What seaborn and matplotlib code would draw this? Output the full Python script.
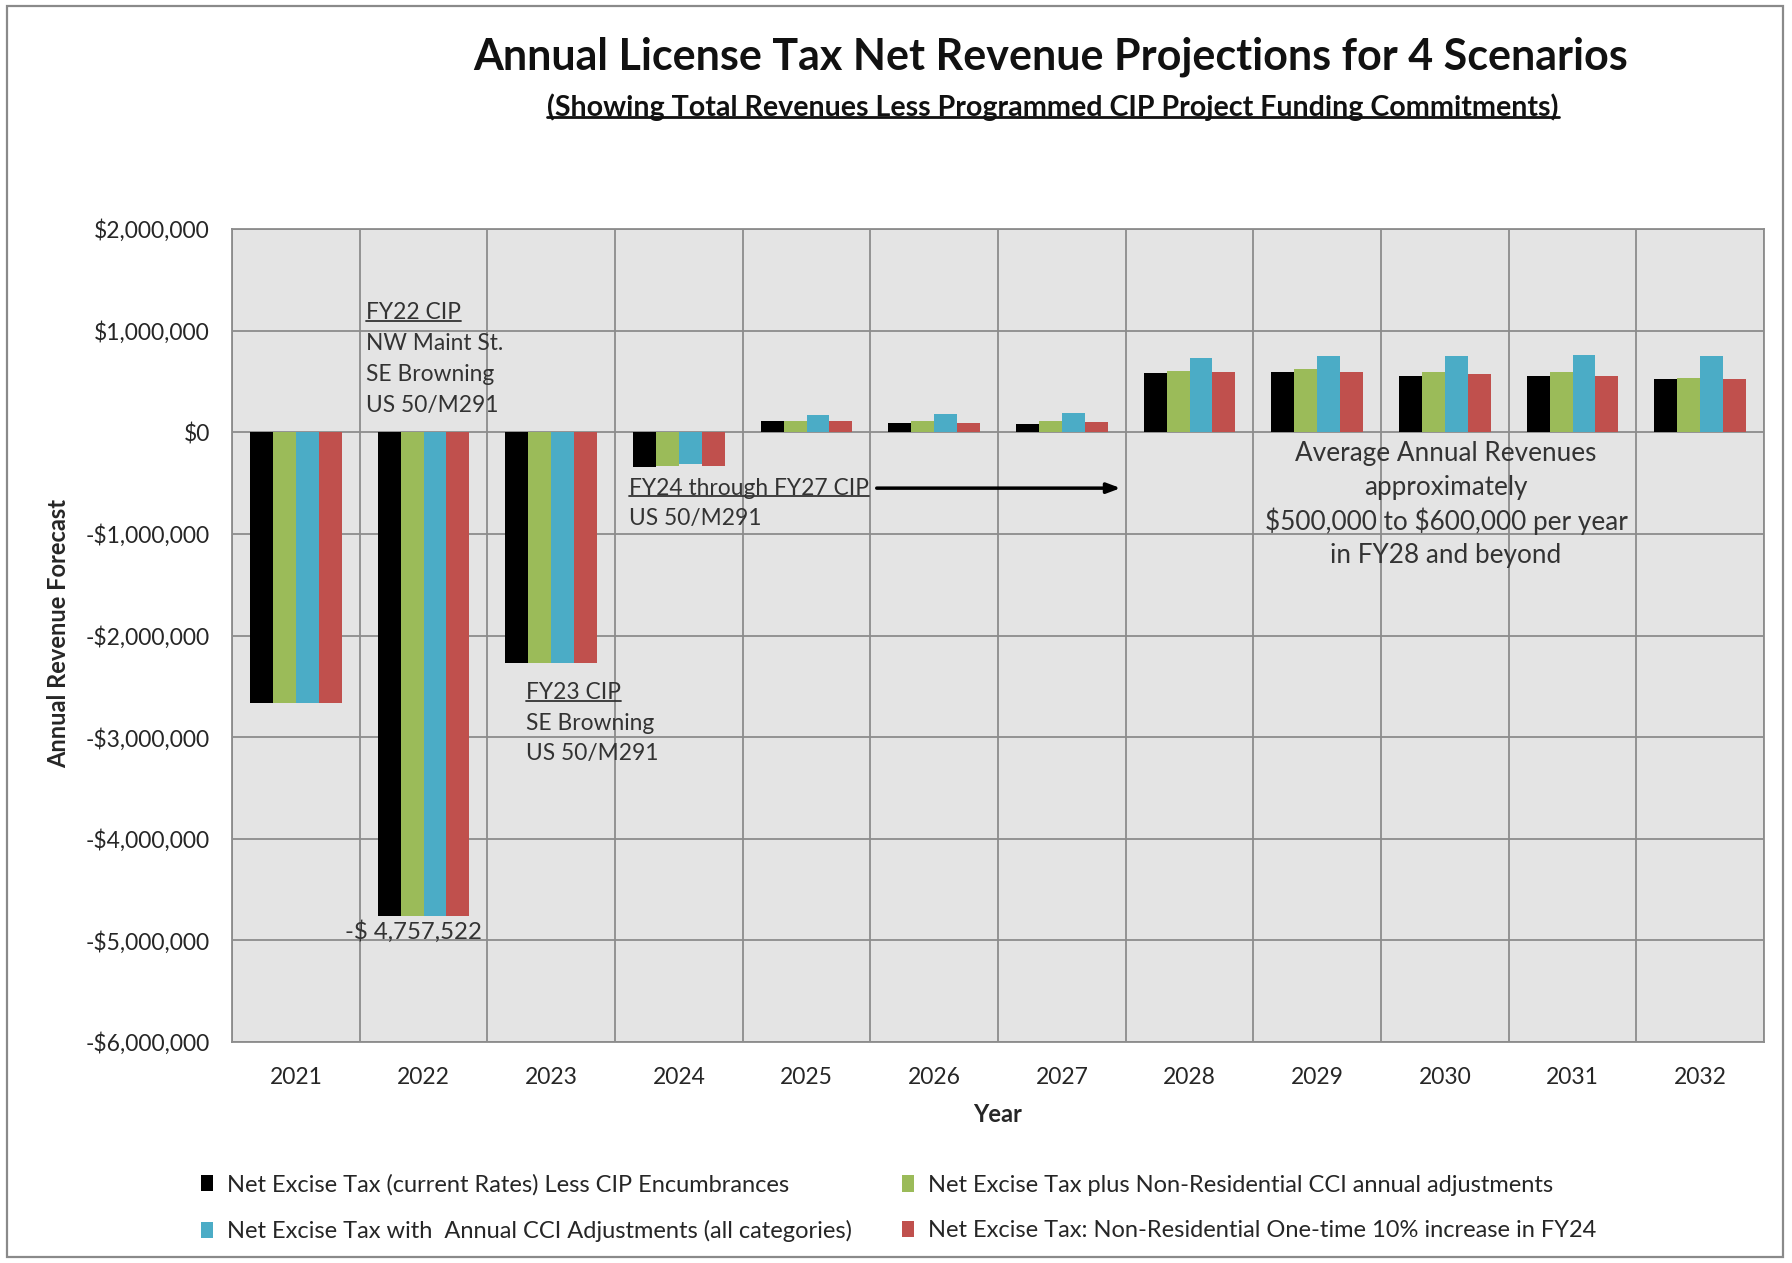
import matplotlib
matplotlib.use("Agg")
import matplotlib.pyplot as plt
from matplotlib.patches import Patch, Rectangle
from matplotlib.lines import Line2D
from matplotlib.transforms import IdentityTransform
from matplotlib.ticker import FuncFormatter, MultipleLocator, FixedLocator
import numpy as np
import pandas as pd
import seaborn as sns

# ---- data -------------------------------------------------------------
years = [str(y) for y in range(2021, 2033)]

scenarios = [
    "Net Excise Tax (current Rates) Less CIP Encumbrances",
    "Net Excise Tax plus Non-Residential CCI annual adjustments",
    "Net Excise Tax with  Annual CCI Adjustments (all categories)",
    "Net Excise Tax: Non-Residential One-time 10% increase in FY24",
]

current_rates = [-2660000, -4757522, -2275000, -340000, 110000, 92000, 83000,
                 581000, 597000, 554000, 554000, 521000]
nonres_cci = [-2660000, -4757522, -2275000, -330000, 106000, 106000, 109000,
              604000, 620000, 594000, 594000, 538000]
all_cci = [-2660000, -4757522, -2275000, -310000, 165000, 175000, 191000,
           729000, 752000, 752000, 762000, 752000]
nonres_10pct = [-2660000, -4757522, -2275000, -330000, 109000, 92000, 96000,
                597000, 597000, 571000, 554000, 521000]

colors = ["#000000", "#9BBB59", "#4BACC6", "#C0504D"]

df = pd.DataFrame({
    "Year": years * 4,
    "Scenario": np.repeat(scenarios, len(years)),
    "Revenue": current_rates + nonres_cci + all_cci + nonres_10pct,
})

# ---- style ------------------------------------------------------------
sns.set_style("white")
plt.rcParams["font.family"] = ["Lato", "DejaVu Sans"]
text_grey = "#333333"
grid_grey = "#8C8C8C"

fig = plt.figure(figsize=(17.92, 12.63), dpi=100)
ax = fig.add_axes([232 / 1792, 1 - 1042 / 1263, 1532 / 1792, 813 / 1263])
ax.set_facecolor("#E4E4E4")

sns.barplot(data=df, x="Year", y="Revenue", hue="Scenario", hue_order=scenarios,
            palette=colors, width=0.72, saturation=1, errorbar=None,
            linewidth=0, legend=False, ax=ax)

ax.set_xlim(-0.5, len(years) - 0.5)
ax.set_ylim(-6000000, 2000000)
ax.yaxis.set_major_locator(MultipleLocator(1000000))


def dollars(v, _pos):
    v = int(round(v))
    return f"-${abs(v):,}" if v < 0 else f"${v:,}"


ax.yaxis.set_major_formatter(FuncFormatter(dollars))
ax.xaxis.set_minor_locator(FixedLocator(np.arange(-0.5, len(years), 1.0)))
ax.set_axisbelow(True)
ax.grid(axis="y", which="major", color=grid_grey, linewidth=1.3)
ax.grid(axis="x", which="minor", color=grid_grey, linewidth=1.3)
ax.grid(axis="x", which="major", visible=False)
for s in ax.spines.values():
    s.set_color(grid_grey)
    s.set_linewidth(1.3)

ax.tick_params(axis="both", which="both", length=0, labelsize=16.5,
               labelcolor="#262626")
ax.tick_params(axis="y", pad=16)
ax.tick_params(axis="x", pad=18)
ax.set_xlabel("")
ax.set_ylabel("")

fig.text(59 / 1792, 1 - 634 / 1263, "Annual Revenue Forecast", rotation=90,
         ha="center", va="center", fontsize=17, fontweight="bold", color="#262626")
fig.text(998 / 1792, 1 - 1114 / 1263, "Year", ha="center", va="center",
         fontsize=17, fontweight="bold", color="#262626")

# ---- titles -----------------------------------------------------------
title = fig.text(1051 / 1792, 1 - 57 / 1263,
                 "Annual License Tax Net Revenue Projections for 4 Scenarios",
                 ha="center", va="center", fontsize=31, fontweight="bold",
                 color="#111111")
subtitle = fig.text(1053 / 1792, 1 - 107 / 1263,
                    "(Showing Total Revenues Less Programmed CIP Project Funding Commitments)",
                    ha="center", va="center", fontsize=20.6, fontweight="bold",
                    color="#111111")

# ---- annotations ------------------------------------------------------
ann_kw = dict(fontsize=16.4, color=text_grey, va="center", ha="left",
              parse_math=False)

underlined = [subtitle]

fy22 = ["FY22 CIP", "NW Maint St.", "SE Browning", "US 50/M291"]
for i, line in enumerate(fy22):
    t = ax.text(0.55, 1175000 - i * 305000, line, **ann_kw)
    if i == 0:
        underlined.append(t)

fy23 = ["FY23 CIP", "SE Browning", "US 50/M291"]
for i, line in enumerate(fy23):
    t = ax.text(1.80, -2565000 - i * 300000, line, **ann_kw)
    if i == 0:
        underlined.append(t)

fy24 = ["FY24 through FY27 CIP", "US 50/M291"]
for i, line in enumerate(fy24):
    t = ax.text(2.61, -550000 - i * 295000, line, **ann_kw)
    if i == 0:
        underlined.append(t)

ax.annotate("", xy=(6.46, -550000), xytext=(4.55, -550000),
            arrowprops=dict(arrowstyle="-|>,head_length=0.8,head_width=0.3",
                            color="black", lw=2.5, shrinkA=0, shrinkB=0))

avg = ["Average Annual Revenues", "approximately",
       "$500,000 to $600,000 per year", "in FY28 and beyond"]
for i, line in enumerate(avg):
    ax.text(9.01, -205000 - i * 335000, line, fontsize=18.8, color=text_grey,
            ha="center", va="center", parse_math=False)

low_year = years.index("2022")
low_val = current_rates[low_year]
ax.annotate(f"-$ {abs(low_val):,}", xy=(low_year - 0.08, low_val),
            xytext=(0, -3), textcoords="offset points",
            ha="center", va="top", fontsize=17.3, color=text_grey,
            parse_math=False)

# ---- legend -----------------------------------------------------------
handles = [Patch(facecolor=c, edgecolor="none") for c in colors]
leg_kw = dict(frameon=False, fontsize=17, handlelength=0.5, handleheight=0.7,
              handletextpad=0.6, labelspacing=1.05, borderpad=0,
              loc="center left", labelcolor="#262626")
fig.legend([handles[0], handles[2]], [scenarios[0], scenarios[2]],
           bbox_to_anchor=(189 / 1792, 1 - 1208 / 1263), **leg_kw)
fig.legend([handles[1], handles[3]], [scenarios[1], scenarios[3]],
           bbox_to_anchor=(890 / 1792, 1 - 1208 / 1263), **leg_kw)

# ---- outer frame ------------------------------------------------------
fig.add_artist(Rectangle((7 / 1792, 1 - 1257 / 1263), 1776 / 1792, 1251 / 1263,
                         transform=fig.transFigure, fill=False,
                         edgecolor="#8A8A8A", linewidth=1.6))

# ---- underlines -------------------------------------------------------
renderer = fig.canvas.get_renderer()
for t in underlined:
    bb = t.get_window_extent(renderer)
    y = bb.y0 + 0.12 * bb.height
    fig.add_artist(Line2D([bb.x0, bb.x1], [y, y], transform=IdentityTransform(),
                          color=t.get_color(), linewidth=1.3 if t is not subtitle else 2.0))

fig.savefig("out.png", dpi=100)
